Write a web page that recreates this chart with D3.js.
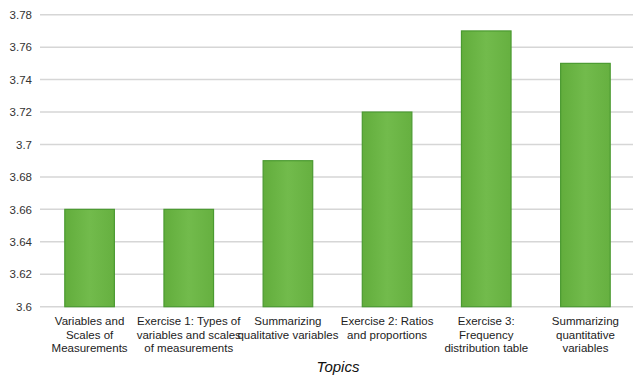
<!DOCTYPE html>
<html>
<head>
<meta charset="utf-8">
<script src="https://cdn.jsdelivr.net/npm/d3@7"></script>
<style>
  html, body { margin: 0; padding: 0; background: #fff; }
  svg { display: block; font-family: "Liberation Sans", Arial, sans-serif; }
</style>
</head>
<body>
<svg id="chart" width="633" height="378"></svg>
<script>
// Mean score per topic
const topics = [
  "Variables and Scales of Measurements",
  "Exercise 1: Types of variables and scales of measurements",
  "Summarizing qualitative variables",
  "Exercise 2: Ratios and proportions",
  "Exercise 3: Frequency distribution table",
  "Summarizing quantitative variables"
];
const topicLines = [
  ["Variables and", "Scales of", "Measurements"],
  ["Exercise 1: Types of", "variables and scales", "of measurements"],
  ["Summarizing", "qualitative variables"],
  ["Exercise 2: Ratios", "and proportions"],
  ["Exercise 3:", "Frequency", "distribution table"],
  ["Summarizing", "quantitative", "variables"]
];
const scores = [3.66, 3.66, 3.69, 3.72, 3.77, 3.75];
const yTicks = [3.6, 3.62, 3.64, 3.66, 3.68, 3.7, 3.72, 3.74, 3.76, 3.78];
const xTitle = "Topics";

const svg = d3.select("#chart");
const plotLeft = 40, plotRight = 635, plotTop = 14.7, plotBottom = 306.7;

const x = d3.scaleBand().domain(topics).range([plotLeft, plotRight])
  .paddingInner(0.5).paddingOuter(0.25);
const y = d3.scaleLinear().domain([3.6, 3.78]).range([plotBottom, plotTop]);

// horizontal gridlines
svg.append("g").selectAll("line").data(yTicks).join("line")
  .attr("x1", plotLeft).attr("x2", 633)
  .attr("y1", d => y(d)).attr("y2", d => y(d))
  .attr("stroke", "#d6d6d6").attr("stroke-width", 1.5);

// y axis labels
const yAxis = d3.axisLeft(y).tickValues(yTicks).tickSize(0).tickPadding(0)
  .tickFormat(d => String(+d.toFixed(2)));
const gy = svg.append("g").attr("transform", `translate(32,0)`).call(yAxis);
gy.select(".domain").remove();
gy.selectAll("text").attr("fill", "#333").attr("font-size", 11.5)
  .attr("font-family", "Liberation Sans, Arial, sans-serif");

// gradient for bars
const defs = svg.append("defs");
const grad = defs.append("linearGradient").attr("id", "barFill")
  .attr("x1", 0).attr("x2", 1).attr("y1", 0).attr("y2", 0);
grad.append("stop").attr("offset", "0%").attr("stop-color", "#62ad3c");
grad.append("stop").attr("offset", "50%").attr("stop-color", "#72bb4c");
grad.append("stop").attr("offset", "100%").attr("stop-color", "#66b040");

// bars
svg.append("g").selectAll("rect").data(topics).join("rect")
  .attr("x", d => x(d))
  .attr("width", x.bandwidth())
  .attr("y", (d, i) => y(scores[i]))
  .attr("height", (d, i) => y(3.6) - y(scores[i]))
  .attr("fill", "url(#barFill)")
  .attr("stroke", "#4b9a31").attr("stroke-width", 1.2);

// category labels
const lab = svg.append("g").selectAll("text").data(topics).join("text")
  .attr("text-anchor", "middle")
  .attr("font-size", 11.5).attr("fill", "#222")
  .attr("x", d => x(d) + x.bandwidth() / 2)
  .attr("y", 325);
lab.each(function(d, i) {
  const t = d3.select(this);
  topicLines[i].forEach((line, j) => {
    t.append("tspan")
      .attr("x", x(d) + x.bandwidth() / 2)
      .attr("dy", j === 0 ? 0 : 13.5)
      .text(line);
  });
});

// axis title
svg.append("text")
  .attr("x", 338).attr("y", 372)
  .attr("text-anchor", "middle")
  .attr("font-size", 15).attr("font-style", "italic")
  .attr("fill", "#111")
  .text(xTitle);
</script>
</body>
</html>
